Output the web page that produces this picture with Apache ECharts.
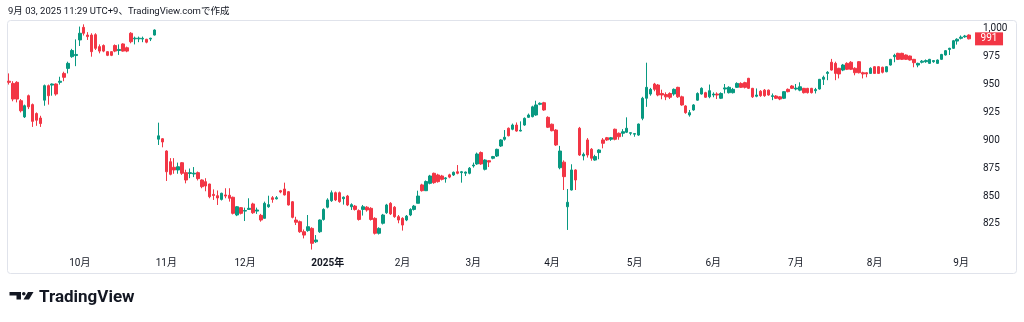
<!DOCTYPE html>
<html>
<head>
<meta charset="utf-8">
<script src="https://cdn.jsdelivr.net/npm/echarts@6/dist/echarts.min.js"></script>
<style>
html,body{margin:0;padding:0;background:#fff;}
#c{width:1024px;height:322px;}
</style>
</head>
<body>
<div id="c"></div>
<script>
// Daily candles [open, close, low, high], Sep 2024 – Sep 2025
const candles = [
[953,952,950,960],[951,937,935,953],[952,937,934,953],[935.5,926.5,925,937],[921,931,920,932],
[940,930,928,941],[932,917,912,933],[924,918,913,925],[920,915,912,922],[936,949,931,950],
[949,940,932,950],[949.5,950.5,940,951],[950.5,941.5,940,951],[952,953,950,957],[960,956.5,953,961.5],
[964.5,969,960,970.5],[975,980.5,974,982],[976,977,966.5,990.5],[990,996,984.6,1002],
[1001.3,996,994,1004],[994.4,993,990,997],[994.4,979.5,975,996],[994.7,982.5,981,996],[984,980,978,986],
[985,980,979,986],[979.5,976.2,975.5,980],[979.5,976.2,975.5,980],[985,980,979,986],[980.5,981.5,976.6,986],
[986.4,980,979.5,987],[983,980,979,984],[996,988.4,987,997],[991,991.6,986,993],[991,991.6,988,993],
[990.8,991.5,988,993],[990.6,988,987,991],[990.8,991.5,989,992],[994.4,998.9,994,999.5],
[901,904,895.8,915.8],[901.4,898.5,893.7,902],[890.4,871.8,863.5,891],[880.8,869.5,868.6,884],[875.8,873.4,870,884],
[873.4,876.3,870,880],[879.9,870.4,869,880.5],[871,864.4,861.4,873.6],[870.2,871,866,874.7],[869.8,870.5,867,876],
[871,865.6,864,872],[864.4,858.4,857,865],[862.9,859,854.3,866],[860.8,849.4,848,861],[851.5,850.5,846.5,856],
[850.3,848.3,842,855],[847,852.5,846,853],[851,850,848,857],[850.7,848,845,857],[848.9,834.5,833.5,849.5],
[833,840.4,832,841],[839.6,834.5,833.5,840],[836.5,837,827.6,839.6],[838,839,837.5,848],[842.9,835,834,844],
[836.5,837.5,834,839.6],[832.7,828.5,827,834],[830,843.5,830,845],[840.4,842.3,839.5,850.3],[848.5,847,844,850],
[847.5,848.5,847,850],[854.8,853.6,852.5,855.5],[856.3,851,850.5,862],[853.9,842,841.5,854.5],[844.9,830.9,830,845.5],
[828.5,826.5,824,831.4],[827,818,817,828],[818,815,812,820],[819,822.5,818,833],[821,807.6,802,822],
[809,810.6,808,815],[818,828.5,817,829],
[829,838,828,839],[840,846.5,839,848],[845.8,853,844.8,855],[853,846.5,845.5,854],[853,845,844,854],
[847.6,849,842.3,849.6],[850,842,841,851],[840.4,842.3,837.5,843.5],[841,838,837,842],[836.9,829,828,838],
[838,840.4,832.5,842],[840,837.5,836,841],[839,829,828,840],[830,816.6,815.5,831],[816.6,821,815.5,822],
[825.6,833,824.5,834],[835,842,834,843],[843.5,834,833,844.5],[840,831.5,830.5,841],[831.5,828.5,825.6,833],
[830,824,819,831],[828.5,832,827.5,833],[833,838,832,839],[838,841,837,842],[843.5,850,843.5,854.8],
[860,854.8,854,861],[854.8,863,854.5,864],[861.4,868,860.5,869],[870.4,862,861,871],[868.9,862.9,862,870],
[868,865,864,869],[865.5,866.3,862,867],[869,867,866,870],[868.9,871.3,868,872],[871.8,870.4,869.5,877.8],
[871,871.8,862,872.5],[870.5,871.5,868,872],[870.4,875,869.5,876],[877,877.8,875.5,880],[878.8,887.7,878,889],
[889,878.8,878,890],[874,882.3,873,883],[881.7,880.5,876,882.3],[883.9,885.4,883,886],[885.9,891.9,885,892.5],
[894.9,900.3,894,901],[900.9,902.7,899.7,909.2],[910.8,904.1,903.5,911.5],[909.9,913.7,909,915],[913.7,908.3,907.7,916],
[908.3,909,908,917],[913.7,919.7,913,920.5],[920.6,922.7,920,924],[921.2,930,920.6,931],[922.7,931.7,922,935.5],
[932.3,933.2,931.5,934],[933.7,927.2,926.5,934.5],[920.6,911.7,911,921.5],[914.4,908.6,908,915],[909.2,895.8,895,910],
[875.4,890.4,874,895],[880.4,867.4,855.4,882],[840.4,844.4,819.6,856.3],[855.4,873.4,855,878.5],[873.4,864.4,855.4,874],
[910.8,886.8,886,912],[886,887.4,882,889],[900.3,886.8,884.5,902],[892,883.9,881.7,893],[882.3,885.4,881.7,887],
[889,891.3,883,892],[900.3,897.3,892.8,902],[902.3,900.3,899.5,903],[900.9,902.3,899.5,903],[909.9,900.9,900,910.5],
[906.3,903.2,900.5,907],[906.3,907.7,903.2,910],[907.2,910.8,906.5,920.6],[906.3,906.8,904.5,907],[905.5,906,903.2,906.5],
[904.7,914.6,904,915],[919.7,937.7,918,939],[937.7,947.5,930,969.6],
[941.5,945.7,940,947],[950.5,945.7,944,951.5],[949.6,940.6,939.5,950.5],[942,940.6,936.8,945.4],[941,939,936,943],
[942,938.6,937,943],[941.5,945.7,940,946.5],[947.5,939,938,948],[939,931.7,931,940],[930.8,924.8,923.8,931.5],
[922.7,924.8,921.2,927.2],[927.2,931.7,926.5,932.5],[936,942,935.5,943],[941.5,946.6,941,947.5],[942.7,938.6,938,943.5],
[939,944.5,937.7,950],[940.6,941.5,938.6,943],[941.5,940.6,937,943],[937.7,942,937,943],[946,947,942,950.5],
[942.7,947.5,942,948.5],[942.7,945.7,942,947],[947.5,951,947,952],[951,947.5,947,952],[951.7,947.5,946.5,952.5],
[955.6,946.6,946,956],[946.6,939,938,947],[939.5,940.6,938.6,946.5],[944,940,939,945],
[945,940,939,946],[945,940.6,940,945.5],[939.3,940,936,942],[939.7,937.7,937,940.5],[939,937,936,939.5],
[937.7,943.6,937,944],[945.7,943.6,943,946.5],[948.7,946.6,946,949.5],[946,946.8,944.8,950.5],[945,948,944,952],
[946.6,942.7,942,947],[946.6,942.7,942,947],[946.6,942.7,942,947],[944.5,945.5,942,947],[946,954.7,945.5,955],
[954.7,956.5,949.6,958],[960,961,953.9,962],[970,963,962.5,973],[969,960,953.9,970.5],[964.6,959.5,955.5,965],
[963,967.5,962,968.5],[969,963.7,963,970],[970,963.7,963,971],[964.6,960.6,958.3,965.5],[970.5,960.6,960,971],
[960.6,959.5,955.5,961.5],[960.6,959.5,956.5,961],[960,964.6,959.5,965.5],[966,960,959.5,966.5],[966,960,959.5,966.5],
[965.5,961,960,966],[961.5,966,961,966.5],[967.5,972.6,967,973],[975,976.2,970,977.6],[978,972.6,972,978.5],
[978,972.6,972,978.5],[976.5,972.6,972,977],[975.6,972,971.5,976],[972.6,969.6,965.5,973],[967.5,969,965.5,969.6],
[970,971,969,972],[970.5,971.5,969.5,972.5],[969,972.6,968.5,973],[970.5,971.5,969.5,972],[969,972,968.5,972.5],
[972.6,977,972,977.5],[976.5,980.4,976,981],[981.5,982.5,976.5,983],[982.5,989.3,982,990],[989,990.6,985.8,991.5],
[991.5,992.5,990.5,994],[992.8,993.5,992,994.5],[994.4,991,990.5,995]
];
const categories = candles.map((_, i) => String(i));
const monthTickIndex  = [18, 40, 60, 81, 100, 118, 138, 159, 179, 200, 220, 242];
const monthTickLabels = ['10月','11月','12月','2025年','2月','3月','4月','5月','6月','7月','8月','9月'];
const yTickValues = [825, 850, 875, 900, 925, 950, 975, 1000];
const lastPrice = 991;
const titleText = '9月 03, 2025 11:29 UTC+9、TradingView.comで作成';

const UP = '#089981', DOWN = '#f23645', TXT = '#131722';
const FONT = 'Roboto, "Noto Sans CJK JP", sans-serif';
const tickMap = {};
monthTickIndex.forEach((idx, k) => { tickMap[idx] = monthTickLabels[k]; });

const chart = echarts.init(document.getElementById('c'), null, {renderer: 'canvas'});
chart.setOption({
  animation: false,
  backgroundColor: '#ffffff',
  textStyle: {fontFamily: FONT},
  grid: {left: 7, width: 964, top: 17.65, height: 234.15},
  xAxis: {
    type: 'category',
    data: categories,
    boundaryGap: true,
    axisLine: {show: false},
    axisTick: {show: false},
    splitLine: {show: false},
    axisLabel: {
      interval: (idx) => tickMap[idx] !== undefined,
      formatter: (val, idx) => {
        const t = tickMap[idx];
        if (t === undefined) return '';
        return t.indexOf('年') >= 0 ? '{b|' + t + '}' : t;
      },
      margin: 7,
      color: TXT,
      fontSize: 10,
      fontFamily: FONT,
      rich: {b: {fontWeight: 'bold', fontSize: 10, color: TXT, fontFamily: FONT}}
    }
  },
  yAxis: {
    type: 'value',
    position: 'right',
    min: 800,
    max: 1010,
    interval: 25,
    axisLine: {show: false},
    axisTick: {show: false},
    splitLine: {show: false},
    axisLabel: {
      customValues: yTickValues,
      margin: 12,
      color: TXT,
      fontSize: 10,
      fontFamily: FONT,
      formatter: (v) => v >= 1000 ? (Math.floor(v/1000) + ',' + String(v % 1000).padStart(3, '0')) : String(v)
    }
  },
  series: [{
    type: 'candlestick',
    data: candles,
    barWidth: 3,
    itemStyle: {color: UP, color0: DOWN, borderColor: UP, borderColor0: DOWN, borderWidth: 1},
    markPoint: {
      symbol: 'rect',
      symbolSize: [28, 13],
      symbolOffset: [20, 0],
      itemStyle: {color: DOWN},
      label: {show: true, position: 'inside', color: '#fff', fontSize: 10, fontFamily: FONT, formatter: String(lastPrice)},
      data: [{coord: [categories[categories.length - 1], lastPrice], value: lastPrice}]
    }
  }],
  graphic: [
    {type: 'rect', silent: true, shape: {x: 7.5, y: 20.5, width: 1009, height: 253, r: 3},
     style: {fill: 'none', stroke: '#e0e3eb', lineWidth: 1}, z: -1},
    {type: 'text', left: 8, top: 7, silent: true,
     style: {text: titleText, fill: TXT, font: '9.5px ' + FONT}},
    {type: 'polygon', silent: true,
     shape: {points: [[9.5,292],[21,292],[21,299.5],[16.5,299.5],[16.5,295.5],[9.5,295.5]]},
     style: {fill: TXT}},
    {type: 'circle', silent: true, shape: {cx: 23.8, cy: 293.8, r: 1.8}, style: {fill: TXT}},
    {type: 'polygon', silent: true,
     shape: {points: [[28,292],[33.5,292],[29,299.5],[23.5,299.5]]},
     style: {fill: TXT}},
    {type: 'text', left: 39, top: 289, silent: true,
     style: {text: 'TradingView', fill: TXT, font: 'bold 17px ' + FONT}}
  ]
});
</script>
</body>
</html>
